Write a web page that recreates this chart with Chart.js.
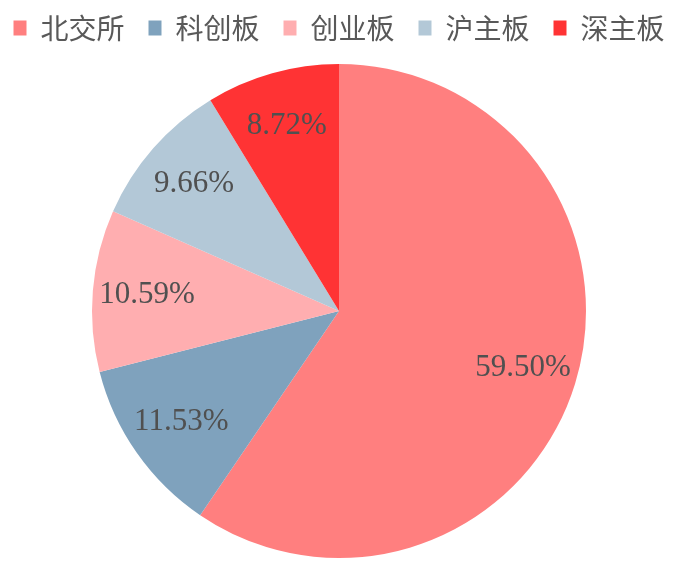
<!DOCTYPE html>
<html>
<head>
<meta charset="utf-8">
<script src="https://cdn.jsdelivr.net/npm/chart.js@4.4.1/dist/chart.umd.min.js"></script>
<style>
    html, body { margin: 0; padding: 0; background: #fff; overflow: hidden; }
    /* deslocado 11px para a esquerda: centro da pizza em x=339 */
    #wrap { width: 700px; height: 572px; margin-left: -11px; }
</style>
</head>
<body>
<div id="wrap"><canvas id="grafico"></canvas></div>
<script>
// Dados do gráfico
const categorias = ['北交所', '科创板', '创业板', '沪主板', '深主板'];
const valores = [59.50, 11.53, 10.59, 9.66, 8.72];
const cores = ['#FF7F7F', '#7FA2BD', '#FFAEB0', '#B3C8D7', '#FF3334'];

// Plugin simples para escrever os percentuais dentro das fatias
const rotulosFatias = {
    id: 'rotulosFatias',
    afterDatasetsDraw(chart) {
        const ctx = chart.ctx;
        const meta = chart.getDatasetMeta(0);
        ctx.save();
        ctx.font = '31px "Liberation Serif", "Times New Roman", serif';
        ctx.fillStyle = '#505050';
        ctx.textAlign = 'center';
        ctx.textBaseline = 'middle';
        meta.data.forEach(function(arc, i) {
            const p = arc.getProps(['x', 'y', 'startAngle', 'endAngle', 'outerRadius'], true);
            const ang = (p.startAngle + p.endAngle) / 2;
            const r = p.outerRadius * 0.78;
            ctx.fillText(valores[i].toFixed(2) + '%', p.x + Math.cos(ang) * r, p.y + Math.sin(ang) * r);
        });
        ctx.restore();
    }
};

const ctx = document.getElementById('grafico').getContext('2d');
new Chart(ctx, {
    type: 'pie',
    data: {
        labels: categorias,
        datasets: [{
            data: valores,
            backgroundColor: cores,
            borderWidth: 0
        }]
    },
    options: {
        responsive: true,
        maintainAspectRatio: false,
        animation: false,
        radius: 247,
        layout: {
            padding: { top: -10, right: 0, bottom: 2, left: 0 }
        },
        plugins: {
            legend: {
                position: 'top',
                labels: {
                    boxWidth: 13,
                    boxHeight: 15,
                    padding: 24,
                    color: '#595959',
                    font: { family: '"Noto Sans CJK SC", sans-serif', size: 28 }
                }
            },
            tooltip: { enabled: false }
        }
    },
    plugins: [rotulosFatias]
});
</script>
</body>
</html>
